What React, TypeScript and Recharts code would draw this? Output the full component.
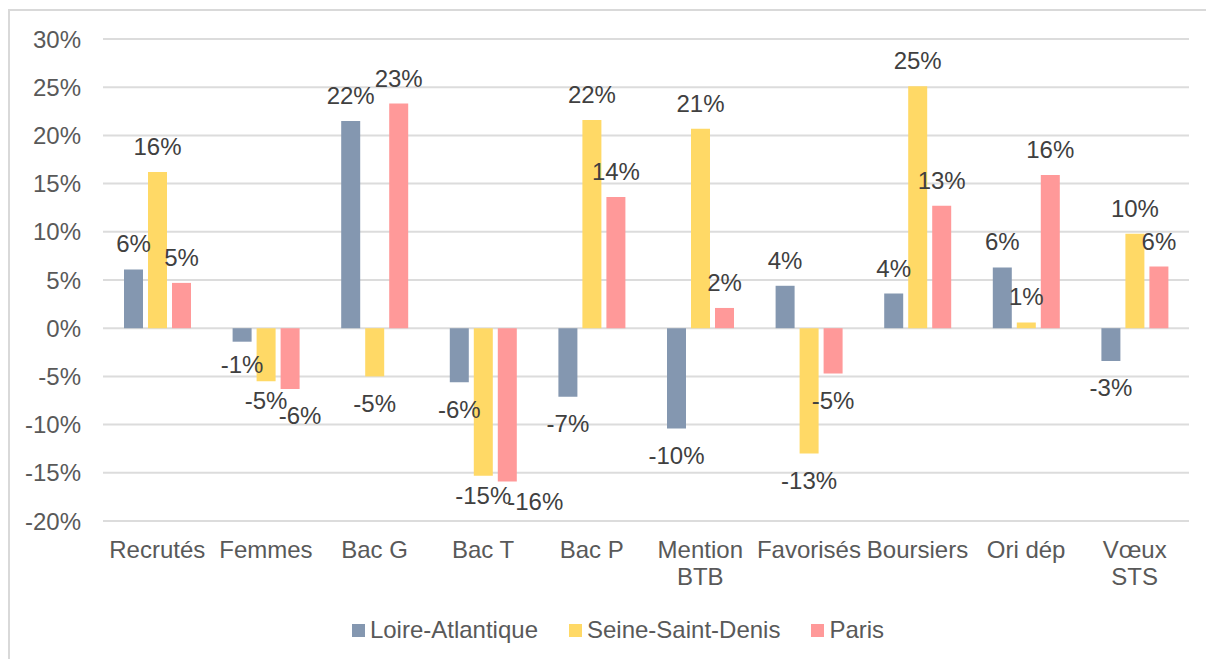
import {
  BarChart,
  Bar,
  XAxis,
  YAxis,
  CartesianGrid,
  Legend,
  LabelList,
} from 'recharts';

const categories = [
  'Recrutés',
  'Femmes',
  'Bac G',
  'Bac T',
  'Bac P',
  'Mention\nBTB',
  'Favorisés',
  'Boursiers',
  'Ori dép',
  'Vœux\nSTS',
];
const loireAtlantique = [6.1, -1.4, 21.5, -5.6, -7.1, -10.4, 4.4, 3.6, 6.3, -3.4];
const seineSaintDenis = [16.2, -5.5, -5.0, -15.3, 21.6, 20.7, -13.0, 25.1, 0.6, 9.8];
const paris = [4.7, -6.3, 23.3, -15.9, 13.6, 2.1, -4.7, 12.7, 15.9, 6.4];
const yTicks = [-20, -15, -10, -5, 0, 5, 10, 15, 20, 25, 30];

const series = [
  { key: 'loire', name: 'Loire-Atlantique', color: '#8497B0' },
  { key: 'ssd', name: 'Seine-Saint-Denis', color: '#FFD966' },
  { key: 'paris', name: 'Paris', color: '#FF9999' },
];

const data = categories.map((c, i) => ({
  name: c,
  loire: loireAtlantique[i],
  ssd: seineSaintDenis[i],
  paris: paris[i],
}));

const FONT = '"Liberation Sans", Arial, sans-serif';
const FS = 24;

// labels that Excel shifted so they don't sit on top of each other
const labelNudge: Record<string, [number, number]> = {
  'Femmes|loire': [0, -4],
  'Femmes|ssd': [0, -8],
  'Femmes|paris': [10, 0],
  'Bac T|ssd': [0, -7],
  'Bac T|paris': [28, -7],
};

function CategoryTick({ x, y, payload }: any) {
  const lines = String(payload.value).split('\n');
  return (
    <text x={x} y={y} textAnchor="middle" fill="#595959" fontSize={FS} fontFamily={FONT}>
      {lines.map((l, i) => (
        <tspan key={i} x={x} dy={i === 0 ? 37 : 27}>
          {l}
        </tspan>
      ))}
    </text>
  );
}

function ValueLabel({ x, y, width, height, value, index, seriesKey }: any) {
  const v = Number(value);
  const top = Math.min(y, y + height);
  const bottom = Math.max(y, y + height);
  const cy = v >= 0 ? top - 25.5 : bottom + 27;
  const [dx, dy] = labelNudge[`${categories[index]}|${seriesKey}`] ?? [0, 0];
  return (
    <text
      x={x + width / 2 + dx}
      y={cy + dy}
      dy="0.355em"
      textAnchor="middle"
      fill="#404040"
      fontSize={FS}
      fontFamily={FONT}
    >
      {`${Math.round(v)}%`}
    </text>
  );
}

function LegendContent() {
  return (
    <div
      style={{
        display: 'flex',
        justifyContent: 'center',
        alignItems: 'center',
        fontFamily: FONT,
        fontSize: FS,
        color: '#595959',
        lineHeight: '28px',
      }}
    >
      {series.map((s, i) => (
        <div
          key={s.key}
          style={{ display: 'flex', alignItems: 'center', marginLeft: i === 0 ? 0 : 31 }}
        >
          <span
            style={{ width: 13, height: 13, background: s.color, display: 'inline-block', marginRight: 5 }}
          />
          <span>{s.name}</span>
        </div>
      ))}
    </div>
  );
}

export default function App() {
  return (
    <div
      style={{
        position: 'fixed',
        left: 0,
        top: 0,
        width: 1206,
        height: 659,
        overflow: 'hidden',
        background: '#fff',
      }}
    >
      <div
        style={{
          position: 'absolute',
          left: 8,
          top: 9,
          width: 1300,
          height: 800,
          border: '2px solid #D9D9D9',
        }}
      />
      <div style={{ position: 'absolute', left: 0, top: 0 }}>
        <BarChart
          width={1206}
          height={659}
          data={data}
          margin={{ top: 39, right: 17, left: 0, bottom: 78 }}
          barSize={19}
          barGap={5}
        >
          <CartesianGrid vertical={false} stroke="#DCDCDC" strokeWidth={2} />
          <XAxis
            dataKey="name"
            axisLine={false}
            tickLine={false}
            tickSize={0}
            tickMargin={0}
            height={60}
            interval={0}
            tick={<CategoryTick />}
          />
          <YAxis
            width={103}
            domain={[-20, 30]}
            ticks={yTicks}
            axisLine={false}
            tickLine={false}
            tickSize={0}
            tickMargin={22}
            tickFormatter={(v: number) => `${v}%`}
            tick={{ fill: '#595959', fontSize: FS, fontFamily: FONT }}
          />
          <Legend
            layout="horizontal"
            verticalAlign="middle"
            align="center"
            wrapperStyle={{ top: 616, left: 20, width: 1196, height: 28 }}
            content={<LegendContent />}
          />
          {series.map((s) => (
            <Bar key={s.key} dataKey={s.key} name={s.name} fill={s.color} isAnimationActive={false}>
              <LabelList
                dataKey={s.key}
                content={(p: any) => <ValueLabel {...p} seriesKey={s.key} />}
              />
            </Bar>
          ))}
        </BarChart>
      </div>
    </div>
  );
}
